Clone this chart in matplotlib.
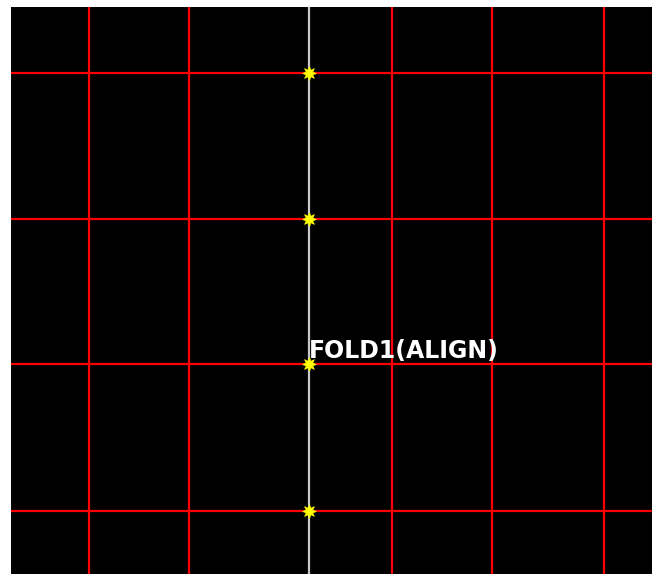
import matplotlib
matplotlib.use("Agg")
import matplotlib.pyplot as plt

# layout in screen units (pixels of the original view)
view_x = [11, 652]
view_y = [7, 574]
grid_x = [89, 189, 392, 492, 604]
grid_y = [73, 219, 364, 511]
fold_x = 309
fold_pts_y = [73, 219, 364, 511]
fold_label = "FOLD1(ALIGN)"
label_y = 364

fig = plt.figure(figsize=(6.58, 5.74), dpi=100)
fig.patch.set_facecolor("white")
W, H = 658, 574
ax = fig.add_axes([view_x[0] / W, 1 - view_y[1] / H,
                   (view_x[1] - view_x[0]) / W, (view_y[1] - view_y[0]) / H])
ax.set_facecolor("black")
ax.set_xlim(view_x)
ax.set_ylim(view_y[1], view_y[0])
ax.set_xticks([])
ax.set_yticks([])
for s in ax.spines.values():
    s.set_visible(False)

for x in grid_x:
    ax.axvline(x, color="#ff0000", lw=1.6)
for y in grid_y:
    ax.axhline(y, color="#ff0000", lw=1.6)

ax.axvline(fold_x, color="#c8c8c8", lw=1.6)
ax.plot([fold_x] * len(fold_pts_y), fold_pts_y, linestyle="none",
        marker=(8, 1, 0), markersize=10, color="#ffff00", markeredgewidth=0.5)

ax.text(fold_x, label_y - 1, fold_label, color="white", fontsize=17,
        fontweight="bold", ha="left", va="bottom", family="DejaVu Sans")

fig.savefig("out.png", dpi=100, facecolor="white")
